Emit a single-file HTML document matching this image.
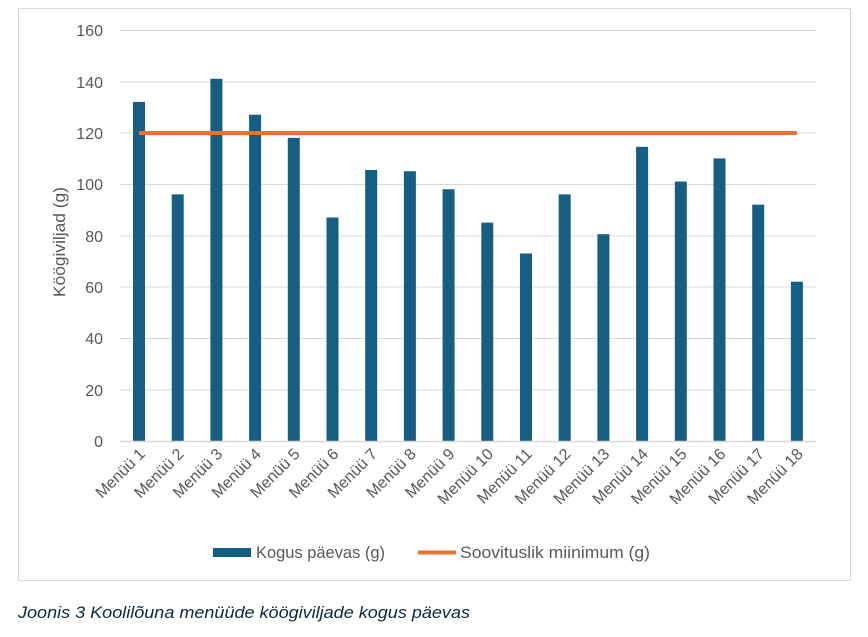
<!DOCTYPE html>
<html><head><meta charset="utf-8"><style>
body{margin:0;background:#fff;width:868px;height:632px;overflow:hidden;font-family:"Liberation Sans",sans-serif}
</style></head><body>
<svg width="868" height="632" xmlns="http://www.w3.org/2000/svg" font-family="Liberation Sans, sans-serif">
<rect x="18.5" y="8.5" width="832" height="572" fill="#fff" stroke="#d9d9d9"/>
<g stroke="#d9d9d9" stroke-width="1">
<line x1="120" x2="816" y1="30.5" y2="30.5"/><line x1="120" x2="816" y1="82" y2="82"/>
<line x1="120" x2="816" y1="133" y2="133"/><line x1="120" x2="816" y1="184.5" y2="184.5"/>
<line x1="120" x2="816" y1="236" y2="236"/><line x1="120" x2="816" y1="287" y2="287"/>
<line x1="120" x2="816" y1="338.5" y2="338.5"/><line x1="120" x2="816" y1="390" y2="390"/>
</g>
<g font-size="16" fill="#595959" text-anchor="end">
<text x="103" y="36">160</text><text x="103" y="88">140</text><text x="103" y="139">120</text>
<text x="103" y="190">100</text><text x="103" y="242">80</text><text x="103" y="293">60</text>
<text x="103" y="344">40</text><text x="103" y="396">20</text><text x="103" y="447">0</text>
</g>
<text transform="translate(65,242) rotate(-90)" font-size="17" fill="#595959" text-anchor="middle" textLength="110" lengthAdjust="spacingAndGlyphs">Köögiviljad (g)</text>
<g fill="#156082" id="bars"></g>
<line x1="120" x2="816" y1="441.5" y2="441.5" stroke="#d9d9d9" stroke-width="1.5"/>
<line x1="139" x2="797" y1="133" y2="133" stroke="#e97132" stroke-width="4"/>
<g id="labels" font-size="16" fill="#595959" text-anchor="end"></g>
<rect x="213" y="548" width="38" height="9" fill="#156082"/>
<text x="256" y="558" font-size="16.5" fill="#595959" textLength="129" lengthAdjust="spacingAndGlyphs">Kogus päevas (g)</text>
<line x1="418" x2="456" y1="552.5" y2="552.5" stroke="#e97132" stroke-width="4"/>
<text x="460" y="558" font-size="16.5" fill="#595959" textLength="190" lengthAdjust="spacingAndGlyphs">Soovituslik miinimum (g)</text>
<text x="18" y="618" font-size="17" font-style="italic" fill="#0e2841" textLength="452" lengthAdjust="spacingAndGlyphs">Joonis 3 Koolilõuna menüüde köögiviljade kogus päevas</text>
<script>
var v=[132,96,141,127,118,87,105.5,105,98,85,73,96,80.5,114.5,101,110,92,62];
var b=document.getElementById('bars'),l=document.getElementById('labels'),ns='http://www.w3.org/2000/svg';
v.forEach(function(d,i){var cx=139+i*38.7,h=d*2.569;
var r=document.createElementNS(ns,'rect');r.setAttribute('x',cx-6);r.setAttribute('y',441-h);r.setAttribute('width',12);r.setAttribute('height',h);b.appendChild(r);
var t=document.createElementNS(ns,'text');t.setAttribute('transform','translate('+(cx+7)+',455) rotate(-45)');t.textContent='Menüü '+(i+1);l.appendChild(t);});
</script>
</svg>
</body></html>
